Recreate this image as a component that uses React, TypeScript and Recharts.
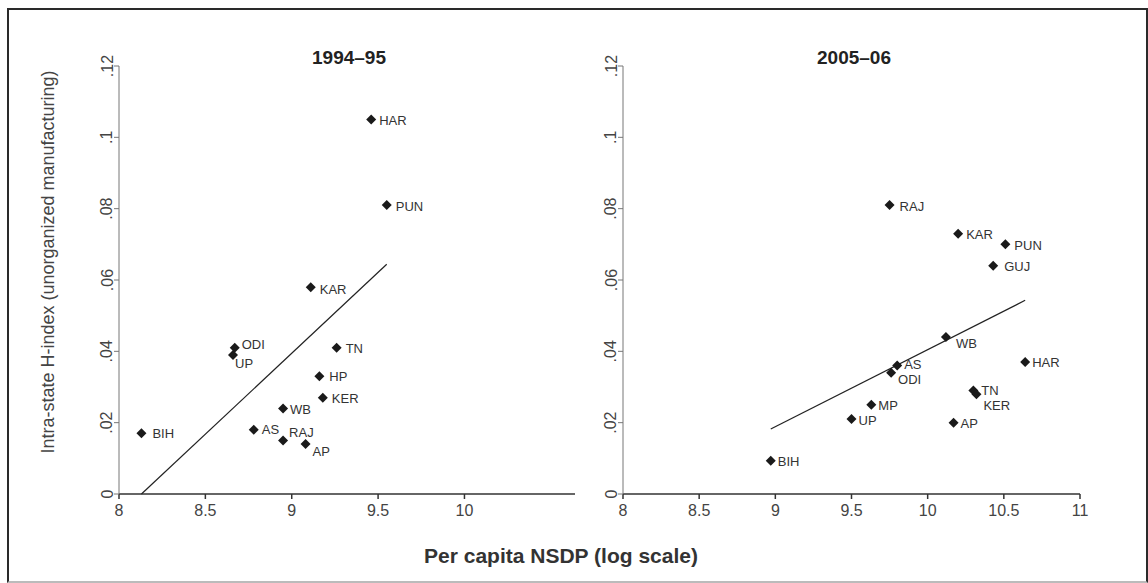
import React from 'react'
import { ScatterChart, Scatter, XAxis, YAxis } from 'recharts'

// 1994–95 panel
const states1994 = ['HAR', 'PUN', 'KAR', 'ODI', 'UP', 'TN', 'HP', 'KER', 'WB', 'BIH', 'AS', 'RAJ', 'AP']
const nsdp1994 = [9.46, 9.55, 9.11, 8.67, 8.66, 9.26, 9.16, 9.18, 8.95, 8.13, 8.78, 8.95, 9.08]
const hindex1994 = [0.105, 0.081, 0.058, 0.041, 0.039, 0.041, 0.033, 0.027, 0.024, 0.017, 0.018, 0.015, 0.014]
const fitX1994 = [8.13, 9.55]
const fitY1994 = [0.0, 0.0644]

// 2005–06 panel
const states2005 = ['RAJ', 'KAR', 'PUN', 'GUJ', 'WB', 'HAR', 'AS', 'ODI', 'TN', 'KER', 'MP', 'UP', 'AP', 'BIH']
const nsdp2005 = [9.75, 10.2, 10.51, 10.43, 10.12, 10.64, 9.8, 9.76, 10.3, 10.32, 9.63, 9.5, 10.17, 8.97]
const hindex2005 = [0.081, 0.073, 0.07, 0.064, 0.044, 0.037, 0.036, 0.034, 0.029, 0.028, 0.025, 0.021, 0.02, 0.0093]
const fitX2005 = [8.97, 10.64]
const fitY2005 = [0.0182, 0.0543]

const yTicks = [0, 0.02, 0.04, 0.06, 0.08, 0.1, 0.12]
const xTicks1994 = [8, 8.5, 9, 9.5, 10]
const xTicks2005 = [8, 8.5, 9, 9.5, 10, 10.5, 11]

// where each state's label sits relative to its marker
const labelOffsets1994: Record<string, [number, number]> = {
    HAR: [8, 1], PUN: [9, 1], KAR: [9, 2], ODI: [7, -3], UP: [2, 9], TN: [9, 1], HP: [10, 0],
    KER: [9, 1], WB: [7, 1], BIH: [11, 0], AS: [8, 0], RAJ: [6, -8], AP: [7, 7],
}
const labelOffsets2005: Record<string, [number, number]> = {
    RAJ: [10, 1], KAR: [8, 1], PUN: [9, 1], GUJ: [11, 1], WB: [10, 6], HAR: [7, 0], AS: [7, -1],
    ODI: [7, 7], TN: [8, 0], KER: [7, 11], MP: [7, 1], UP: [7, 1], AP: [7, 1], BIH: [7, 1],
}

const FONT = '"Liberation Sans", Arial, Helvetica, sans-serif'

const fmtY = (v: number) => (v === 0 ? '0' : String(v).replace(/^0/, ''))

const YTick = (props: any) => {
    const { x, y, payload } = props
    const cx = x - 5
    return (
        <text x={cx} y={y} transform={`rotate(-90, ${cx}, ${y})`} textAnchor="middle" dominantBaseline="central"
            fontSize={16} fill="#444" fontFamily={FONT}>
            {fmtY(payload.value)}
        </text>
    )
}

const makeDiamond = (offsets: Record<string, [number, number]>) => (props: any) => {
    const { cx, cy, payload } = props
    const [dx, dy] = offsets[payload.name] || [7, 0]
    const s = 5
    return (
        <g>
            <polygon points={`${cx},${cy - s} ${cx + s},${cy} ${cx},${cy + s} ${cx - s},${cy}`} fill="#1a1a1a" />
            <text x={cx + dx} y={cy + dy} dominantBaseline="central" fontSize={13} fill="#333" fontFamily={FONT}>
                {payload.name}
            </text>
        </g>
    )
}

interface PanelProps {
    names: string[]
    xs: number[]
    ys: number[]
    fitX: number[]
    fitY: number[]
    xDomain: [number, number]
    xTicks: number[]
    offsets: Record<string, [number, number]>
    left: number
    yAxisWidth: number
    marginRight: number
}

function Panel({ names, xs, ys, fitX, fitY, xDomain, xTicks, offsets, left, yAxisWidth, marginRight }: PanelProps) {
    const points = names.map((n, i) => ({ name: n, x: xs[i], y: ys[i] }))
    const fit = fitX.map((x, i) => ({ x, y: fitY[i] }))
    return (
        <div style={{ position: 'absolute', left, top: 0 }}>
            <ScatterChart width={560} height={583} margin={{ top: 66, right: marginRight, bottom: 49, left: 0 }}>
                <XAxis type="number" dataKey="x" domain={xDomain} ticks={xTicks} allowDataOverflow
                    stroke="#333" strokeWidth={1.5} height={40} tickSize={5} tickMargin={6}
                    tick={{ fontSize: 16, fill: '#444', fontFamily: FONT }} />
                <YAxis type="number" dataKey="y" domain={[0, 0.12]} ticks={yTicks} width={yAxisWidth}
                    stroke="#777" tickSize={5} tickMargin={2} tick={<YTick />} />
                <Scatter data={fit} line={{ stroke: '#222', strokeWidth: 1.2 }} shape={() => <g />}
                    isAnimationActive={false} />
                <Scatter data={points} shape={makeDiamond(offsets)} isAnimationActive={false} />
            </ScatterChart>
        </div>
    )
}

export default function App() {
    return (
        <div style={{ position: 'absolute', left: 0, top: 0, width: 1148, height: 583, background: '#fff', fontFamily: FONT }}>
            <div style={{
                position: 'absolute', left: 7, top: 8, width: 1137, height: 571,
                borderLeft: '2px solid #2a2a2a', borderTop: '2px solid #2a2a2a', borderRight: '2px solid #2a2a2a',
                borderBottom: '2px solid #bbb',
            }} />
            <Panel names={states1994} xs={nsdp1994} ys={hindex1994} fitX={fitX1994} fitY={fitY1994}
                xDomain={[8, 10.64]} xTicks={xTicks1994} offsets={labelOffsets1994}
                left={40} yAxisWidth={79} marginRight={25} />
            <Panel names={states2005} xs={nsdp2005} ys={hindex2005} fitX={fitX2005} fitY={fitY2005}
                xDomain={[8, 11]} xTicks={xTicks2005} offsets={labelOffsets2005}
                left={551} yAxisWidth={72} marginRight={31} />
            <svg width={1148} height={583} style={{ position: 'absolute', left: 0, top: 0, pointerEvents: 'none' }}>
                <text x={349} y={57} textAnchor="middle" dominantBaseline="central" fontSize={19} fontWeight="bold" fill="#222" fontFamily={FONT}>1994–95</text>
                <text x={854} y={57} textAnchor="middle" dominantBaseline="central" fontSize={19} fontWeight="bold" fill="#222" fontFamily={FONT}>2005–06</text>
                <text x={48} y={262} transform="rotate(-90, 48, 262)" textAnchor="middle" dominantBaseline="central" fontSize={18} fill="#444" fontFamily={FONT}>
                    Intra-state H-index (unorganized manufacturing)
                </text>
                <text x={561} y={555} textAnchor="middle" dominantBaseline="central" fontSize={21} fontWeight="bold" fill="#333" fontFamily={FONT}>
                    Per capita NSDP (log scale)
                </text>
            </svg>
        </div>
    )
}
